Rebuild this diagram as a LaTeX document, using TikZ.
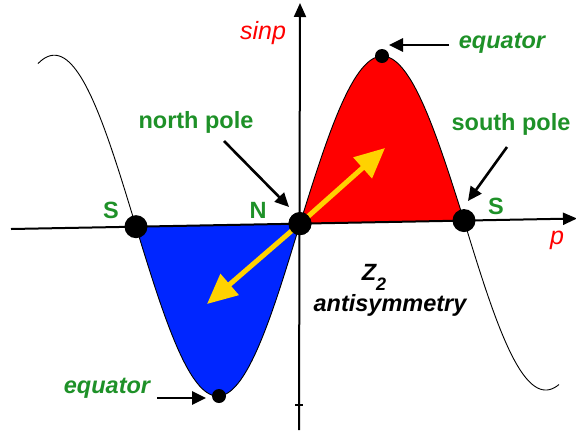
\documentclass[tikz,border=0pt]{standalone}
\usepackage{fontspec}
\setmainfont{Liberation Sans}
\usetikzlibrary{arrows.meta}
\definecolor{lblgreen}{RGB}{30,145,40}
\definecolor{lobeblue}{RGB}{0,38,255}
\definecolor{arrowgold}{RGB}{255,210,0}
\definecolor{lobered}{RGB}{255,0,0}
\newcommand\mysn[1]{sin(((#1)-300)/164*180)}
\newcommand\mycv[1]{229-((#1)-11)*0.01862-(((#1)<136)?173:((\mysn{#1}>0)?166:171))*\mysn{#1}}
\begin{document}
\begin{tikzpicture}[x=1pt,y=-1pt,
  lab/.style={text=lblgreen, font=\fontsize{23.5}{28}\selectfont\bfseries, inner sep=0pt},
  labit/.style={lab, font=\fontsize{23.5}{28}\selectfont\bfseries\itshape},
  axislbl/.style={text=red, font=\fontsize{25}{30}\selectfont\itshape, inner sep=0pt},
  blacklbl/.style={text=black, font=\fontsize{23.5}{28}\selectfont\bfseries\itshape, inner sep=0pt},
  axisline/.style={line width=2pt, -{Triangle[length=14pt,width=12pt]}},
  blkarrow/.style={line width=2.6pt, -{Triangle[length=14pt,width=13pt]}},
  goldarrow/.style={draw=arrowgold, line width=5pt, -{Triangle[length=30pt,width=27pt]}},
  bigdot/.style={circle, fill=black, minimum size=23pt, inner sep=0pt},
  smalldot/.style={circle, fill=black, minimum size=14pt, inner sep=0pt},
]
\useasboundingbox (0,0) rectangle (576,432);

% lobes
\fill[lobered] plot[variable=\t, domain=300:464, samples=80] (\t,{\mycv{\t}}) -- cycle;
\fill[lobeblue] plot[variable=\t, domain=136:300, samples=80] (\t,{\mycv{\t}}) -- cycle;

% axes
\coordinate (xstart) at (11,229);
\coordinate (xend) at (577,218.5);
\coordinate (ystart) at (299,430);
\coordinate (yend) at (300,3);
\draw[axisline] (xstart) -- (xend);
\draw[axisline] (ystart) -- (yend);
\coordinate (tickl) at (295,405);
\coordinate (tickr) at (303,405);
\draw[line width=1.2pt] (tickl) -- (tickr);

% curve
\draw[line width=0.9pt] plot[variable=\t, domain=38:559, samples=220, smooth] (\t,{\mycv{\t}});

% points
\node[bigdot] (Sl) at (136,226.67) {};
\node[bigdot] (N) at (300,223.62) {};
\node[bigdot] (Sr) at (464,220.57) {};
\node[smalldot] (eqtop) at (382,56) {};
\node[smalldot] (eqbot) at (219,396) {};

% yellow arrows
\coordinate (gup) at (385,148);
\coordinate (gdown) at (207,304);
\draw[goldarrow] (N.center) -- (gup);
\draw[goldarrow] (N.center) -- (gdown);
\node[bigdot] at (N) {};

% labels
\node[axislbl] (sinp) at (263,33) {sinp};
\node[axislbl] (plbl) at (557,240) {p};
\node[labit] (eqtoplbl) at (502,43) {equator};
\node[labit] (eqbotlbl) at (107,388) {equator};
\node[lab] (nplbl) at (196,122) {north pole};
\node[lab] (splbl) at (511,124) {south pole};
\node[lab] (Nlbl) at (258,210) {N};
\node[lab] (Sllbl) at (111,210) {S};
\node[lab] (Srlbl) at (496,206) {S};
\node[blacklbl] (z2) at (374,277) {Z\raisebox{-10pt}{\fontsize{18}{18}\selectfont 2}};
\node[blacklbl] (anti) at (390,305) {antisymmetry};

% black arrows
\coordinate (a1s) at (449,45);
\coordinate (a1e) at (389,45);
\draw[blkarrow] (a1s) -- (a1e);
\coordinate (a2s) at (224,141);
\coordinate (a2e) at (289,207);
\draw[blkarrow] (a2s) -- (a2e);
\coordinate (a3s) at (507,147);
\coordinate (a3e) at (468,201);
\draw[blkarrow] (a3s) -- (a3e);
\coordinate (a4s) at (157,398);
\coordinate (a4e) at (206,398);
\draw[blkarrow] (a4s) -- (a4e);
\end{tikzpicture}
\end{document}
